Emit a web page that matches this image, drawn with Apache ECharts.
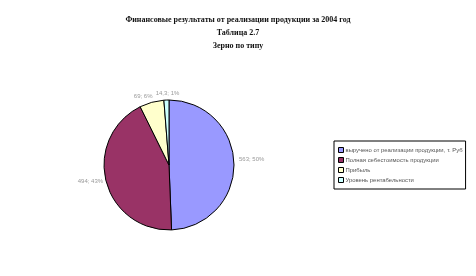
<!DOCTYPE html>
<html><head><meta charset="utf-8">
<script src="https://cdn.jsdelivr.net/npm/echarts@6/dist/echarts.min.js"></script>
<style>html,body{margin:0;padding:0;background:#fff}#c{width:476px;height:276px}</style>
</head><body><div id="c"></div>
<script>
const titleLines = ['Финансовые результаты от реализации продукции за 2004 год', 'Таблица 2.7', 'Зерно по типу'];
const categories = ['выручено от реализации продукции, т. Руб', 'Полная себестоимость продукции', 'Прибыль', 'Уровень рентабельности'];
const values = [563, 494, 69, 14.3];
const colors = ['#9999FF', '#993366', '#FFFFCC', '#CCFFFF'];

const chart = echarts.init(document.getElementById('c'), null, {renderer: 'canvas'});
const labelNudge = [[-2, -4], [-1, 0], [16, -10], [18, -5]];
chart.setOption({
  animation: false,
  backgroundColor: '#fff',
  title: titleLines.map((t, i) => ({
    text: t, left: 'center', top: 11 + i * 13,
    textStyle: {fontFamily: 'Liberation Serif', fontSize: 8, fontWeight: 'bold', color: '#111'}
  })),
  legend: {
    orient: 'vertical', left: 334, top: 141,
    padding: [6, 3, 6, 4], itemGap: 4,
    borderColor: '#000', borderWidth: 1,
    itemWidth: 5, itemHeight: 5, icon: 'rect',
    itemStyle: {borderColor: '#000', borderWidth: 1},
    textStyle: {fontFamily: 'Liberation Sans', fontSize: 5.9, color: '#555', padding: [0,0,0,-3]},
    data: categories
  },
  series: [{
    type: 'pie', center: [169, 165], radius: 65, startAngle: 90, clockwise: true,
    percentPrecision: 0,
    itemStyle: {borderColor: '#000', borderWidth: 1},
    label: {
      show: true, position: 'outside', fontFamily: 'Liberation Sans', fontSize: 6, color: '#999',
      formatter: p => String(p.value).replace('.', ',') + '; ' + p.percent + '%'
    },
    labelLine: {show: false, length: 2, length2: 0},
    labelLayout: p => ({dx: labelNudge[p.dataIndex][0], dy: labelNudge[p.dataIndex][1]}),
    data: categories.map((n, i) => ({name: n, value: values[i], itemStyle: {color: colors[i]}}))
  }]
});
</script></body></html>
